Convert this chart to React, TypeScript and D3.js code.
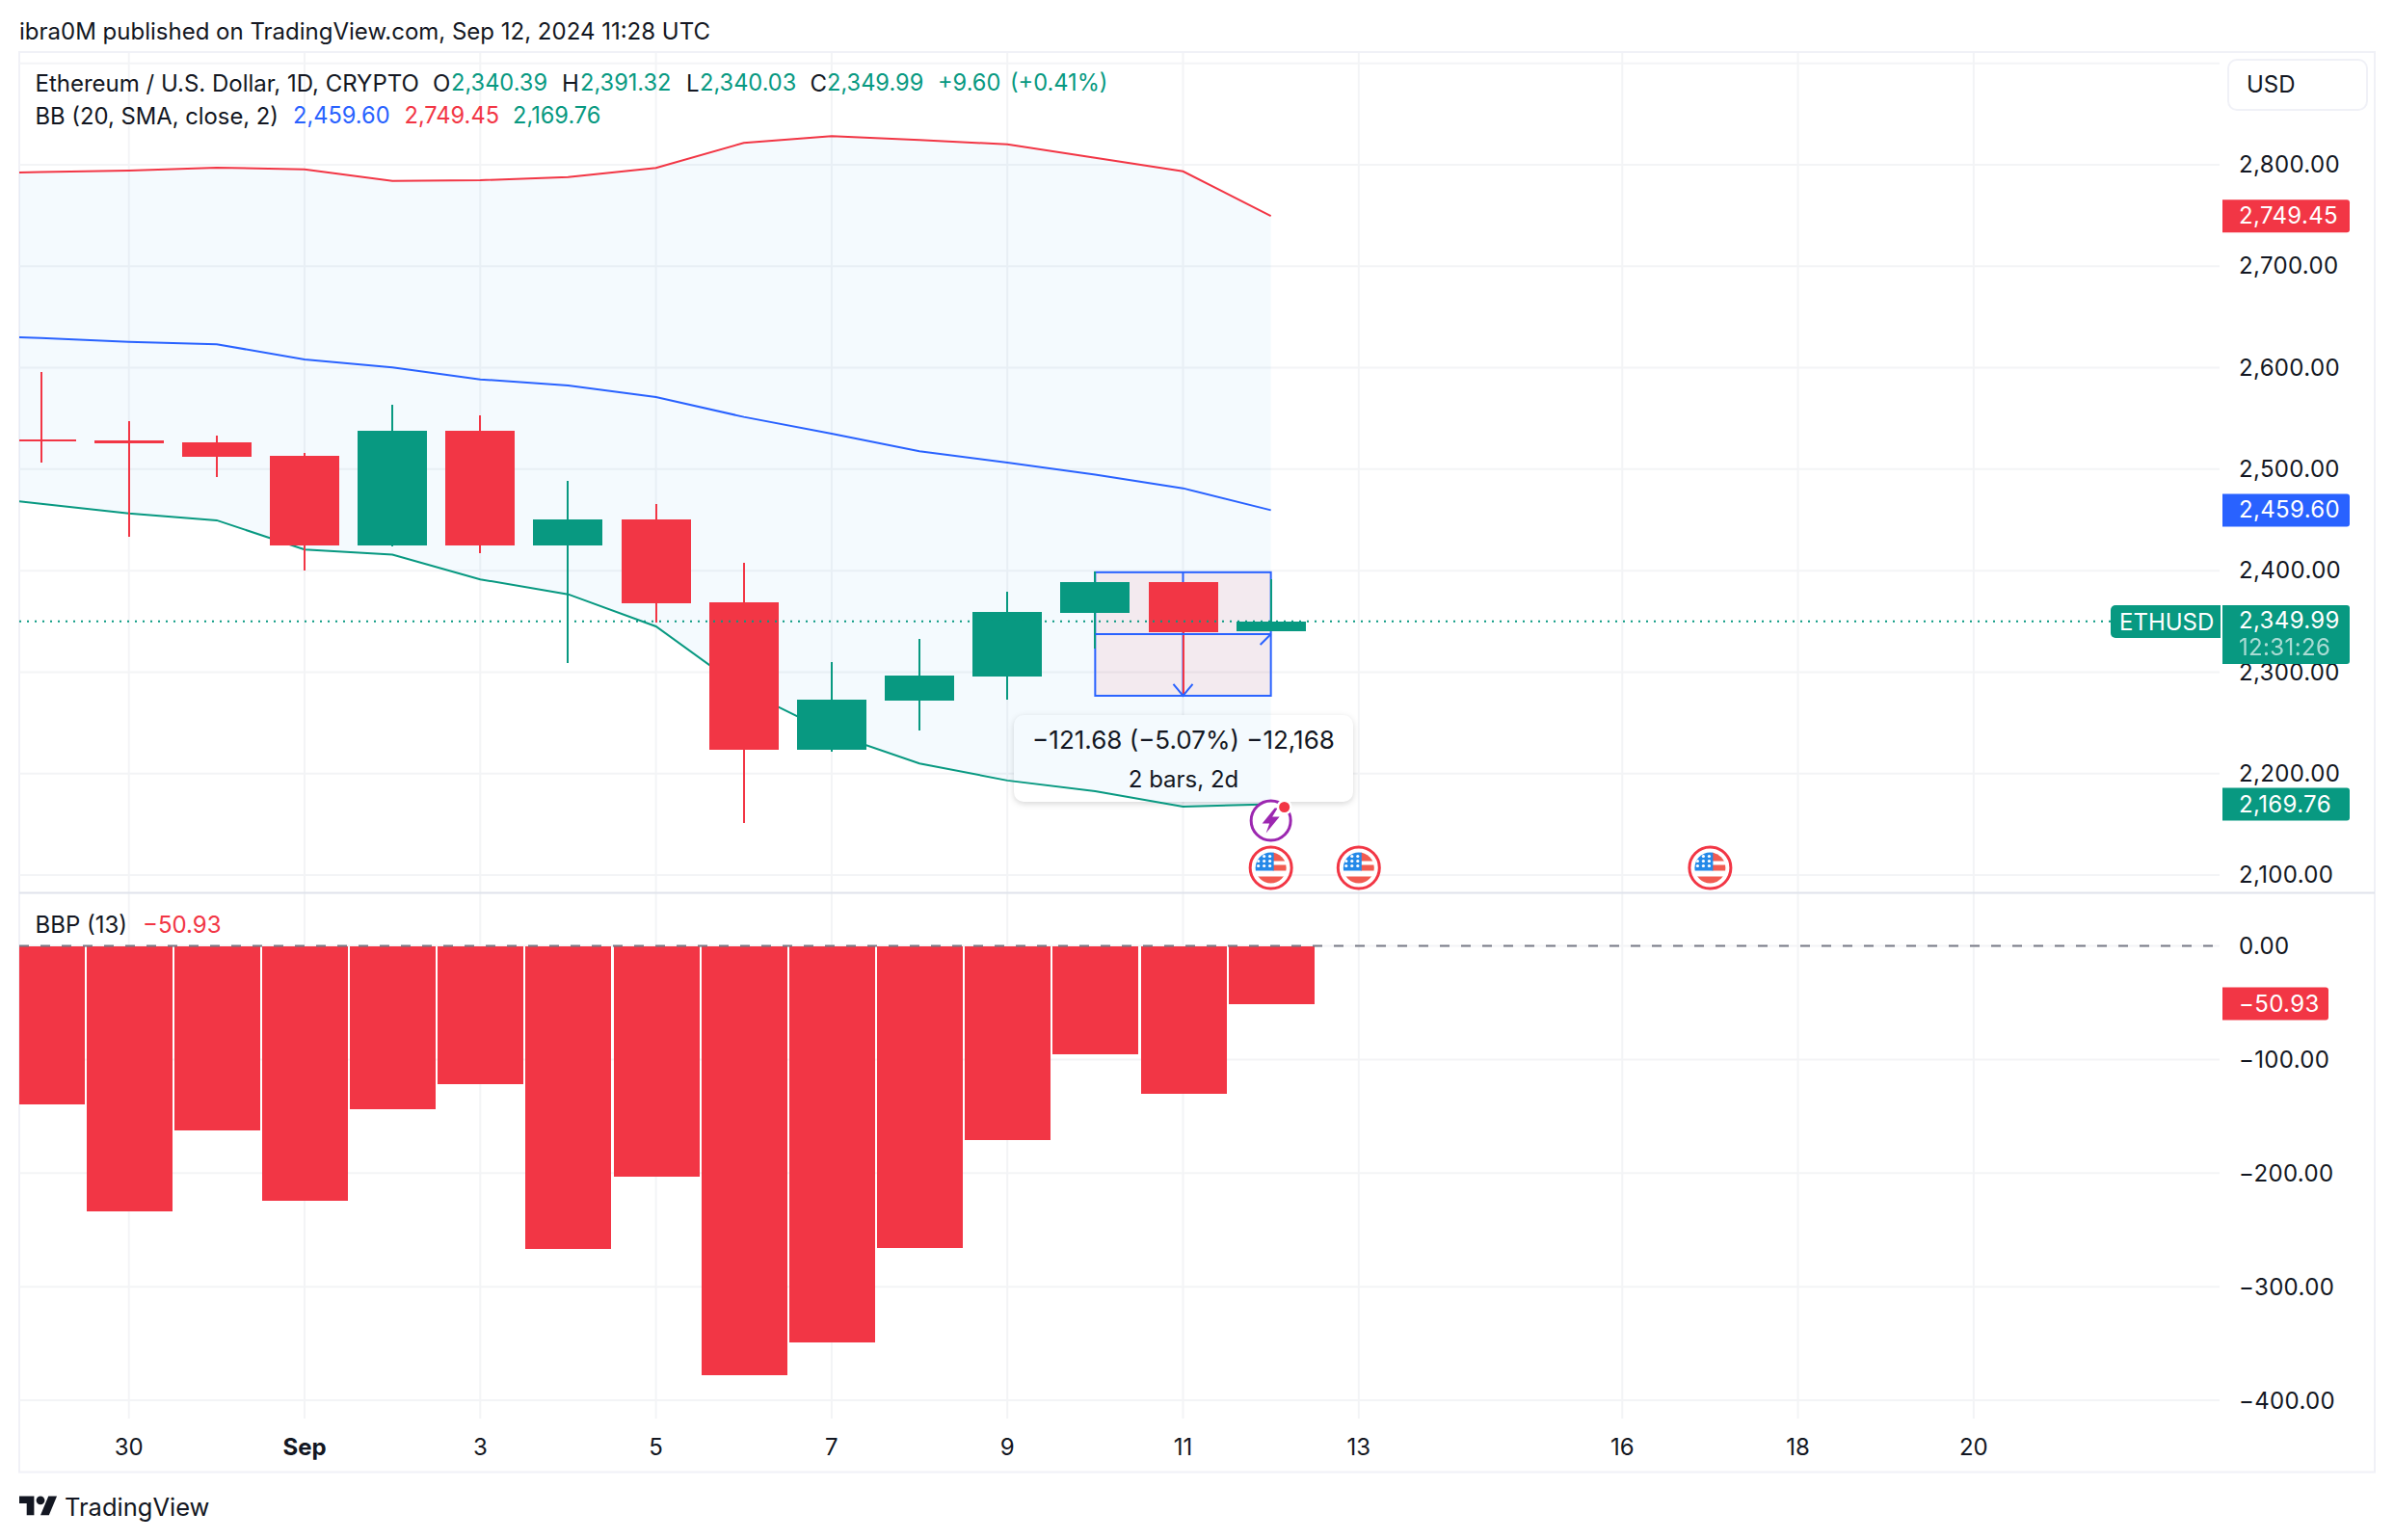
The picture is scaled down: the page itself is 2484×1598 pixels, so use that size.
import React from "react";
import * as d3 from "d3";

const WIDTH = 2484;
const HEIGHT = 1598;

const RED = "#F23645";
const GREEN = "#089981";
const BLUE = "#2962FF";
const INK = "#131722";
const GRID = "#F3F4F6";
const FRAME = "#F0F1F7";
const FONT = "Inter, 'Noto Sans', sans-serif";

// Sessions, Aug 29 .. Sep 12 2024
const candleDates = ["2024-08-29","2024-08-30","2024-08-31","2024-09-01","2024-09-02","2024-09-03","2024-09-04","2024-09-05","2024-09-06","2024-09-07","2024-09-08","2024-09-09","2024-09-10","2024-09-11","2024-09-12"];
const opens  = [2529.3,2528.4,2526.5,2513.2,2424.9,2537.9,2424.9,2450.5,2368.9,2223.6,2272.0,2295.7,2358.4,2388.8,2340.39];
const highs  = [2595.8,2547.4,2533.1,2516.1,2563.5,2553.1,2488.5,2465.7,2407.8,2310.0,2332.8,2379.3,2399.2,2388.8,2391.32];
const lows   = [2506.6,2433.4,2492.3,2400.2,2424.0,2417.3,2309.0,2349.0,2151.4,2221.7,2242.5,2273.0,2323.3,2278.6,2340.03];
const closes = [2527.4,2525.5,2512.3,2424.9,2537.9,2424.9,2450.5,2367.9,2223.6,2273.0,2296.7,2359.4,2388.8,2339.4,2349.99];

// Bollinger bands start one session earlier, off the left of the frame
const bbDates = ["2024-08-28", ...candleDates];
const bbUpper  = [2791.2,2792.8,2794.3,2797.2,2795.5,2784.1,2784.8,2787.9,2796.9,2821.6,2828.2,2824.4,2820.2,2806.9,2793.6,2749.45];
const bbMiddle = [2632.7,2629.2,2625.5,2623.1,2608.2,2600.3,2588.5,2582.5,2571.1,2551.5,2535.0,2517.7,2506.6,2494.7,2481.2,2459.60];
const bbLower  = [2475.3,2465.9,2456.5,2449.6,2420.8,2415.7,2391.4,2376.7,2345.1,2282.4,2239.7,2210.0,2193.2,2182.7,2167.5,2169.76];

const bbpValues = [-139.4,-233.8,-162.5,-224.4,-143.8,-121.6,-266.8,-203.1,-377.8,-348.9,-265.9,-170.9,-95.3,-130.1,-50.93];

const priceGrid = [2900,2800,2700,2600,2500,2400,2300,2200,2100];
const priceLabels = [2800,2700,2600,2500,2400,2300,2200,2100];
const bbpTicks = [0,-100,-200,-300,-400];
const timeTicks = [
  { date: "2024-08-30", label: "30" },
  { date: "2024-09-01", label: "Sep", bold: true },
  { date: "2024-09-03", label: "3" },
  { date: "2024-09-05", label: "5" },
  { date: "2024-09-07", label: "7" },
  { date: "2024-09-09", label: "9" },
  { date: "2024-09-11", label: "11" },
  { date: "2024-09-13", label: "13" },
  { date: "2024-09-16", label: "16" },
  { date: "2024-09-18", label: "18" },
  { date: "2024-09-20", label: "20" },
];
const flagDates = ["2024-09-12","2024-09-13","2024-09-17"];

const lastPrice = 2349.99;
const measureStartDate = "2024-09-10";
const measureEndDate = "2024-09-12";
const measureTop = 2398.4;
const measureBottom = 2276.72;
const measureEntry = 2337.5;

const d = (s: string) => new Date(s + "T00:00:00Z");
const x = d3.scaleUtc().domain([d("2024-09-01"), d("2024-09-13")]).range([316, 1409.8]);
const y = d3.scaleLinear().domain([2100, 2800]).range([908, 171]);
const yB = d3.scaleLinear().domain([0, -400]).range([981.5, 1453]);

const LEFT = 20;
const PLOT_RIGHT = 2303;
const AXIS_SPACING = 0.35;
const fmt = d3.format(",.2f");
const signed = (v: number) => (v < 0 ? "\u2212" + fmt(-v) : fmt(v));

const T = ({ x: tx, y: ty, fill = INK, size = 24, anchor = "start", weight = 400, opacity = 1, spacing = 0, children }: any) => (
  <text x={tx} y={ty} dy="0.36em" fill={fill} fontSize={size} fontFamily={FONT} textAnchor={anchor} fontWeight={weight} opacity={opacity} letterSpacing={spacing}>
    {children}
  </text>
);

const Flag = ({ cx, cy, id }: { cx: number; cy: number; id: string }) => (
  <g transform={`translate(${cx},${cy})`}>
    <circle r={21.5} fill="#fff" stroke={RED} strokeWidth={3} />
    <clipPath id={id}><circle r={16} /></clipPath>
    <g clipPath={`url(#${id})`}>
      <rect x={-17} y={-17} width={34} height={34} fill="#fff" />
      <rect x={2} y={-17} width={15} height={10} fill="#F15B51" />
      <rect x={2} y={-3} width={15} height={6} fill="#F15B51" />
      <rect x={-17} y={9} width={34} height={8} fill="#F15B51" />
      <rect x={-17} y={-17} width={20} height={20} fill="#2489E8" />
      {[-12, -7, -2].map((sy) =>
        [-13, -7, -1].map((sx) => <circle key={`${sx}_${sy}`} cx={sx} cy={sy} r={1.6} fill="#fff" />)
      )}
    </g>
  </g>
);

const Tag = ({ xx, yy, w, h, fill }: any) => (
  <path d={`M${xx},${yy}H${xx + w - 3}a3,3 0 0 1 3,3V${yy + h - 3}a3,3 0 0 1 -3,3H${xx}Z`} fill={fill} />
);

export default function App() {
  const bandArea = d3.area<number>()
    .x((_, i) => x(d(bbDates[i])))
    .y0((_, i) => y(bbLower[i]))
    .y1((v) => y(v));
  const line = d3.line<number>().x((_, i) => x(d(bbDates[i]))).y((v) => y(v));

  const mx0 = x(d(measureStartDate));
  const mx1 = x(d(measureEndDate));
  const mxc = (mx0 + mx1) / 2;
  const myT = y(measureTop);
  const myB = y(measureBottom);
  const myE = y(measureEntry);
  const lastY = y(lastPrice);
  const purpleX = x(d(measureEndDate));

  return (
    <svg width={WIDTH} height={HEIGHT} viewBox={`0 0 ${WIDTH} ${HEIGHT}`}
      style={{ position: "absolute", left: 0, top: 0, background: "#fff", display: "block" }}>
      <defs>
        <clipPath id="plot"><rect x={LEFT} y={54} width={PLOT_RIGHT - LEFT} height={872} /></clipPath>
        <clipPath id="lower"><rect x={LEFT} y={928} width={PLOT_RIGHT - LEFT} height={544} /></clipPath>
      </defs>

      <T x={20} y={32}>ibra0M published on TradingView.com, Sep 12, 2024 11:28 UTC</T>

      {/* frame */}
      <rect x={20} y={54} width={2444} height={1473.5} fill="none" stroke={FRAME} strokeWidth={2} />

      {/* grid */}
      {timeTicks.map((t) => (
        <line key={t.date} x1={x(d(t.date))} x2={x(d(t.date))} y1={55} y2={1472} stroke={GRID} strokeWidth={2} />
      ))}
      {priceGrid.map((v) => (
        <line key={v} x1={LEFT} x2={PLOT_RIGHT} y1={y(v)} y2={y(v)} stroke={GRID} strokeWidth={2} />
      ))}
      {bbpTicks.map((v) => (
        <line key={v} x1={LEFT} x2={PLOT_RIGHT} y1={yB(v)} y2={yB(v)} stroke={GRID} strokeWidth={2} />
      ))}
      <line x1={20} x2={2464} y1={926.5} y2={926.5} stroke="#E0E3EB" strokeWidth={2} />

      {/* measure tooltip card */}
      <rect x={1052} y={742} width={352} height={90} rx={10} fill="#fff" style={{ filter: "drop-shadow(0 2px 3px rgba(0,0,0,0.16))" }} />

      {/* Bollinger bands */}
      <g clipPath="url(#plot)">
        <path d={bandArea(bbUpper) || ""} fill="rgba(33,150,243,0.05)" />
        <path d={line(bbMiddle) || ""} fill="none" stroke={BLUE} strokeWidth={2} />
        <path d={line(bbUpper) || ""} fill="none" stroke={RED} strokeWidth={2} />
        <path d={line(bbLower) || ""} fill="none" stroke={GREEN} strokeWidth={2} />
      </g>

      {/* measure box */}
      <rect x={mx0} y={myT} width={mx1 - mx0} height={myB - myT} fill="rgba(242,54,69,0.08)" />
      <rect x={mx0} y={myT} width={mx1 - mx0} height={myB - myT} fill="none" stroke={BLUE} strokeWidth={2} />
      <line x1={mxc} x2={mxc} y1={myT} y2={myB} stroke={BLUE} strokeWidth={2} />

      {/* candles */}
      <g clipPath="url(#plot)" shapeRendering="crispEdges">
        {candleDates.map((c, i) => {
          const cx = Math.round(x(d(c)));
          const col = closes[i] >= opens[i] ? GREEN : RED;
          const top = y(Math.max(opens[i], closes[i]));
          const bot = y(Math.min(opens[i], closes[i]));
          return (
            <g key={c}>
              <rect x={cx - 1} y={y(highs[i])} width={2} height={y(lows[i]) - y(highs[i])} fill={col} />
              <rect x={cx - 36} y={top} width={72} height={Math.max(bot - top, 2)} fill={col} />
            </g>
          );
        })}
      </g>

      {/* measure arrows */}
      <line x1={mx0} x2={mx1} y1={myE} y2={myE} stroke={BLUE} strokeWidth={2} />
      <path d={`M${mx1 - 11},${myE + 11}L${mx1},${myE}`} fill="none" stroke={BLUE} strokeWidth={2} />
      <path d={`M${mxc - 10},${myB - 12}L${mxc},${myB}L${mxc + 10},${myB - 12}`} fill="none" stroke={BLUE} strokeWidth={2} />

      {/* last price line */}
      <line x1={LEFT} x2={2190} y1={lastY} y2={lastY} stroke={GREEN} strokeWidth={2} strokeDasharray="2 6" />

      {/* legend */}
      <T x={36.5} y={86}>Ethereum / U.S. Dollar, 1D, CRYPTO</T>
      <T x={449} y={86}>O</T><T x={468} y={86} fill={GREEN} size={23.6}>{fmt(opens[14])}</T>
      <T x={583} y={86}>H</T><T x={602} y={86} fill={GREEN} size={23.6}>{fmt(highs[14])}</T>
      <T x={712} y={86}>L</T><T x={726} y={86} fill={GREEN} size={23.6}>{fmt(lows[14])}</T>
      <T x={840.5} y={86}>C</T><T x={858} y={86} fill={GREEN} size={23.6}>{fmt(closes[14])}</T>
      <T x={973} y={86} fill={GREEN} size={23.6}>+9.60</T>
      <T x={1048} y={86} fill={GREEN} size={23.6}>(+0.41%)</T>
      <T x={36.5} y={120} size={23.8}>BB (20, SMA, close, 2)</T>
      <T x={304} y={120} fill={BLUE} size={23.6}>{fmt(bbMiddle[15])}</T>
      <T x={419.5} y={120} fill={RED} size={23.6}>{fmt(bbUpper[15])}</T>
      <T x={532} y={120} fill={GREEN} size={23.6}>{fmt(bbLower[15])}</T>

      {/* tooltip text */}
      <T x={1228} y={768} anchor="middle" size={26}>−121.68 (−5.07%) −12,168</T>
      <T x={1228} y={808} anchor="middle" size={24}>2 bars, 2d</T>

      {/* events */}
      <g transform={`translate(${purpleX},851.5)`}>
        <circle r={20.5} fill="#fff" stroke="#9C27B0" strokeWidth={3} />
        <path d="M4,-13L-9,3H-1.5L-5,13L9,-4H1.5L7,-13Z" fill="#9C27B0" />
        <circle cx={14} cy={-14} r={8} fill="#fff" />
        <circle cx={14} cy={-14} r={5.5} fill={RED} />
      </g>
      {flagDates.map((f) => (
        <Flag key={f} cx={x(d(f))} cy={900.5} id={"flag" + f} />
      ))}

      {/* BBP pane */}
      <g clipPath="url(#lower)" shapeRendering="crispEdges">
        {bbpValues.map((v, i) => {
          const cx = Math.round(x(d(candleDates[i])));
          return <rect key={i} x={cx - 44.5} y={yB(0)} width={89} height={yB(v) - yB(0)} fill={RED} />;
        })}
      </g>
      <line x1={LEFT} x2={PLOT_RIGHT} y1={yB(0)} y2={yB(0)} stroke="#787B86" strokeWidth={2} strokeDasharray="10 12" />
      <T x={36.5} y={959.5}>BBP (13)</T>
      <T x={148} y={959.5} fill={RED}>{signed(bbpValues[14])}</T>

      {/* price axis */}
      {priceLabels.map((v) => <T key={v} x={2323} y={y(v) - 0.5} spacing={AXIS_SPACING}>{fmt(v)}</T>)}
      {bbpTicks.map((v) => <T key={v} x={2323} y={yB(v)} spacing={AXIS_SPACING}>{signed(v)}</T>)}

      <rect x={2312} y={62} width={144} height={52} rx={9} fill="#fff" stroke={FRAME} strokeWidth={2} />
      <T x={2331} y={87.5}>USD</T>

      <Tag xx={2306} yy={y(bbUpper[15]) - 17} w={132} h={34} fill={RED} />
      <T x={2323} y={y(bbUpper[15]) - 1} fill="#fff" spacing={AXIS_SPACING}>{fmt(bbUpper[15])}</T>
      <Tag xx={2306} yy={y(bbMiddle[15]) - 17} w={132} h={34} fill={BLUE} />
      <T x={2323} y={y(bbMiddle[15]) - 1} fill="#fff" spacing={AXIS_SPACING}>{fmt(bbMiddle[15])}</T>
      <Tag xx={2306} yy={y(bbLower[15]) - 17} w={132} h={34} fill={GREEN} />
      <T x={2323} y={y(bbLower[15])} fill="#fff" spacing={AXIS_SPACING}>{fmt(bbLower[15])}</T>

      <path d={`M2304,628V662H2195a5,5 0 0 1 -5,-5V633a5,5 0 0 1 5,-5Z`} fill={GREEN} />
      <T x={2199} y={645} fill="#fff">ETHUSD</T>
      <Tag xx={2306} yy={628} w={132} h={61} fill={GREEN} />
      <T x={2323} y={643.5} fill="#fff" spacing={AXIS_SPACING}>{fmt(lastPrice)}</T>
      <T x={2323} y={671.5} fill="#fff" opacity={0.65} spacing={AXIS_SPACING}>12:31:26</T>

      <Tag xx={2306} yy={yB(bbpValues[14]) - 17} w={110} h={34} fill={RED} />
      <T x={2323} y={yB(bbpValues[14])} fill="#fff" spacing={AXIS_SPACING}>{signed(bbpValues[14])}</T>

      {/* time axis */}
      {timeTicks.map((t) => (
        <T key={t.date} x={x(d(t.date))} y={1501.5} anchor="middle" weight={t.bold ? 700 : 400}>{t.label}</T>
      ))}

      {/* branding */}
      <g transform="translate(20,1548) scale(1.1)" fill={INK}>
        <path d="M14 22H7V11H0V4h14v18zM28 22h-8l7.5-18h8L28 22z" />
        <circle cx={20} cy={8} r={4} />
      </g>
      <T x={67} y={1564} size={25.5}>TradingView</T>
    </svg>
  );
}
